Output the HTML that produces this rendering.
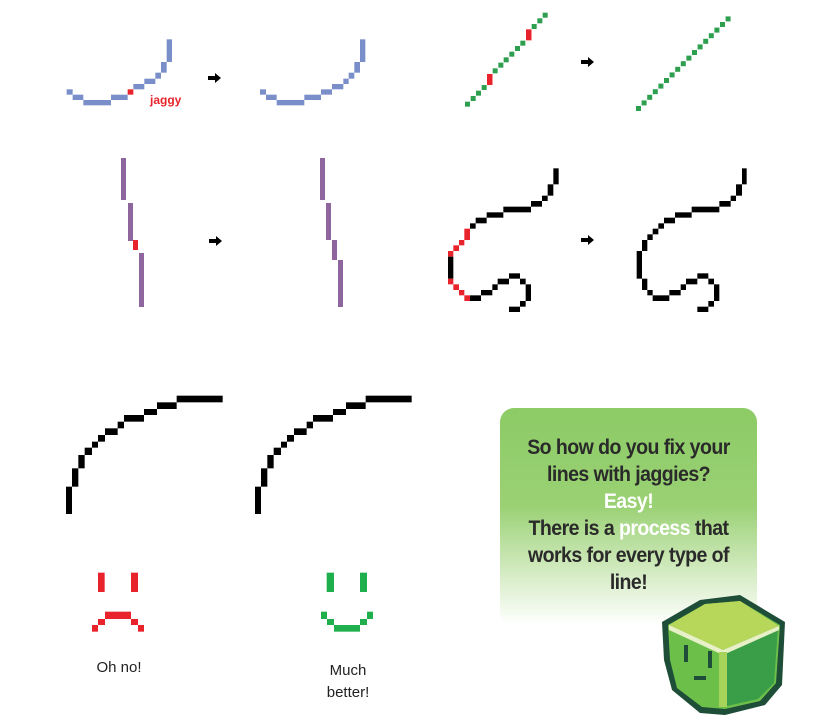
<!DOCTYPE html>
<html><head><meta charset="utf-8"><style>
body{margin:0;width:814px;height:720px;background:#fff;overflow:hidden;position:relative;font-family:"Liberation Sans",sans-serif}
svg{position:absolute;left:0;top:0}
.box{position:absolute;left:500px;top:408px;width:257px;height:217px;border-radius:14px;background:linear-gradient(#8ccb66 0%,#9ad174 45%,#d8edc8 78%,#fff 100%)}
.box div{position:absolute;left:0;width:257px;text-align:center;font:bold 21px "Liberation Sans",sans-serif;color:#2a2a2a;letter-spacing:-0.6px;transform:scaleX(0.93);transform-origin:50% 50%}
.lbl{position:absolute;font-size:15px;color:#222;text-align:center}
</style></head><body>
<svg width="814" height="720" id="s"></svg>
<div class="box">
<div style="top:28px">So how do you fix your</div>
<div style="top:55px">lines with jaggies?</div>
<div style="top:82px;color:#fff">Easy!</div>
<div style="top:109px">There is a <span style="color:#fff">process</span> that</div>
<div style="top:136px">works for every type of</div>
<div style="top:163px">line!</div>
</div>
<svg width="814" height="720" id="c"></svg>
<div class="lbl" style="left:79px;top:659px;width:80px">Oh no!</div>
<div class="lbl" style="left:308px;top:660px;width:80px;line-height:22px">Much<br>better!</div>
<div style="position:absolute;left:150px;top:93px;color:#e8232b;font:bold 12px 'Liberation Sans',sans-serif">jaggy</div>
<script>
const S=document.getElementById('s');
const C=document.getElementById('c');
const NS='http://www.w3.org/2000/svg';
function R(x,y,w,h,c,name,tg){const r=document.createElementNS(NS,'rect');r.setAttribute('x',x);r.setAttribute('y',y);r.setAttribute('width',w);r.setAttribute('height',h);r.setAttribute('fill',c);


(tg||S).appendChild(r);}
function Z(ox,oy,a,c,name,dx){a.forEach(q=>R(ox+q[0]/3+(dx||0),oy+q[1]/3,(q[2]-q[0])/3,(q[3]-q[1])/3,q[4]||c,name));}
const B='#7a8fc9',RD='#e8232b',K='#000',G='#2e9e4f';
Z(60,30,[[20,178,38,194],[38,194,70,210],[70,210,153,226],[153,194,203,210],[203,178,220,194,RD],[220,162,253,178],[253,146,286,162],[286,128,303,146],[303,96,320,128],[320,28,336,96]],B,'blue-jaggy-curve');
Z(60,30,[[600,178,618,194],[618,194,650,210],[650,210,733,226],[733,194,783,210],[783,178,816,194],[816,162,850,178],[850,146,866,162],[866,128,883,146],[883,96,900,128],[900,28,916,96]],B,'blue-fixed-curve');
const gx=[30,47,63,80,113,130,146,163,180,196,230,247,263],gy=[275,258,242,225,175,158,142,125,108,92,42,25,8];
gx.forEach((x,i)=>R(455+x/3,10+gy[i]/3,5,5,G,'green-jaggy-pixel'));
R(455+96/3,10+192/3,5.5,11,RD,'green-jaggy-red');R(455+213/3,10+58/3,5.5,11,RD,'green-jaggy-red');
for(let i=0;i<17;i++)R(636+5.6*i,106-5.6*i,5,5,G,'green-fixed-pixel');
const P='#8e659c';
[[121,158,5,42],[128,203,5,38],[139,253,5,54]].forEach(q=>R(q[0],q[1],q[2],q[3],P,'purple-jaggy-line'));R(133,240,5,10,RD,'purple-jaggy-red');
[[320,158,5,42],[326,203,5,37],[332,240,5,20],[338,260,5,47]].forEach(q=>R(q[0],q[1],q[2],q[3],P,'purple-fixed-line'));
Z(440,150,[[340,55,356,103],[323,103,340,137],[306,137,323,153],[273,153,306,170],[190,170,273,187],[140,187,190,203],[107,203,140,220],[90,220,107,236],[73,236,90,270,RD],[57,270,73,286,RD],[40,286,57,303,RD],[24,303,40,320,RD],[24,320,40,386],[24,386,40,403,RD],[40,403,57,420,RD],[57,420,73,436,RD],[73,436,90,453,RD],[90,436,123,453],[123,420,157,436],[157,403,173,420],[173,386,207,403],[207,370,240,386],[240,386,257,403],[257,403,273,453],[240,453,257,470],[207,470,240,486]],K,'black-jaggy-curl');
Z(440,150,[[906,55,920,103],[888,103,906,137],[872,137,888,153],[838,153,872,170],[755,170,838,187],[705,187,755,203],[672,203,705,220],[655,220,672,236],[638,236,655,253],[622,253,638,270],[606,270,622,303],[590,303,606,386],[606,386,622,420],[622,420,638,436],[638,436,688,453],[688,420,722,436],[722,403,738,420],[738,386,772,403],[772,370,805,386],[805,386,822,403],[822,403,838,453],[805,453,822,470],[772,470,805,486]],K,'black-fixed-curl');
const arc=[[18,290,36,372],[36,235,55,290],[55,195,74,235],[74,173,96,195],[96,155,114,173],[114,135,135,155],[135,115,173,135],[173,95,192,115],[192,75,252,95],[252,57,291,75],[291,37,350,57],[350,17,488,37]];
Z(60,390,arc,K,'arc-bad');Z(60,390,arc,K,'arc-good',189);
Z(80,560,[[54,38,74,96],[153,38,174,96],[75,155,153,177],[54,177,75,195],[153,177,174,195],[36,195,54,215],[174,195,192,215]],RD,'sad-face');
Z(80,560,[[740,38,762,96],[840,38,861,96],[723,155,741,177],[861,155,879,177],[741,177,762,195],[840,177,861,195],[762,195,840,215]],'#1fb04d','happy-face');
[[208,78],[581,62],[209,241],[581,240]].forEach(a=>{const p=document.createElementNS(NS,'polygon');p.setAttribute('points',`${a[0]},${a[1]-2} ${a[0]+7},${a[1]-2} ${a[0]+7},${a[1]-5} ${a[0]+13},${a[1]} ${a[0]+7},${a[1]+5} ${a[0]+7},${a[1]+2} ${a[0]},${a[1]+2}`);


S.appendChild(p);});
function poly(pts,c,name){const p=document.createElementNS(NS,'polygon');p.setAttribute('points',pts);p.setAttribute('fill',c);


C.appendChild(p);}
poly('662,622 700,600 740,595 785,622 782,685 765,705 725,715 700,713 672,690 664,660','#1e4d38','cube-outline');
poly('668,625 705,604 740,601 780,625 776,683 760,701 725,709 702,707 677,688 670,660','#6cc04a','cube-left-face');
poly('723,648 778,628 774,683 758,699 727,706','#3a9e48','cube-right-face');
poly('669,625 705,604 740,601 779,626 723,650','#b7d75a','cube-top');
poly('669,625 723,650 779,626 779,630 723,655 669,630','#e8f0c8','cube-edge');
R(719,652,8,55,'#a8d35a','cube-stripe',C);R(684,645,4,17,'#1e4d38','cube-eye',C);R(708,651,4,17,'#1e4d38','cube-eye',C);R(694,676,12,4,'#1e4d38','cube-mouth',C);
</script>
</body></html>
